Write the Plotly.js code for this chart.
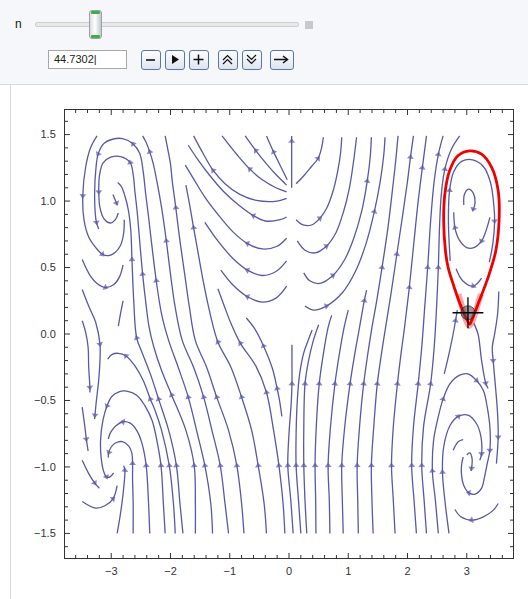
<!DOCTYPE html>
<html>
<head>
<meta charset="utf-8">
<script src="https://cdn.plot.ly/plotly-3.0.1.min.js"></script>
<style>
  html, body { margin:0; padding:0; background:#ffffff; }
  #page { position:relative; width:528px; height:599px; overflow:hidden; font-family:"Liberation Sans", Arial, sans-serif; }
  #panel { position:absolute; left:0; top:0; width:528px; height:84px; background:#f5f7fa; border-bottom:1px solid #d7dadf; }
  #vline { position:absolute; left:10px; top:85px; width:1px; height:514px; background:#d9d9d9; }
  .abs { position:absolute; }
  #nlab { left:15px; top:17px; font-size:12px; color:#222; }
  #track { left:35px; top:22px; width:262px; height:3px; background:#e9e9e9; border:1px solid #cfcfcf; border-radius:2px; }
  #thumb { left:89px; top:10px; width:13px; height:29px; border:1px solid #9aa0a8; border-radius:3px;
           background:linear-gradient(to right,#d9dce2,#ffffff 45%,#c3c7ce); box-sizing:border-box; }
  #thumb .cap { position:absolute; left:1px; width:9px; height:3px; background:#3cb043; border-radius:1px; }
  #endbox { left:305px; top:21px; width:8px; height:8px; background:#c9c9c9; }
  #inbox { left:48px; top:50px; width:79px; height:19px; border:1px solid #a8a8a8; background:#fff; box-sizing:border-box;
           font-size:11px; color:#222; padding-left:5px; line-height:17px; }
  .btn { position:absolute; top:50px; height:20px; border:1.5px solid #5577aa; border-radius:3px; box-sizing:border-box;
         background:linear-gradient(#fdfdfe,#dfe5ee); }
  .btn svg { position:absolute; left:0; top:0; }
  #plot { position:absolute; left:0; top:0; width:528px; height:599px; }
</style>
</head>
<body>
<div id="page">
  <div id="panel"></div>
  <div id="vline"></div>
  <div class="abs" id="nlab">n</div>
  <div class="abs" id="track"></div>
  <div class="abs" id="thumb"><div class="cap" style="top:0"></div><div class="cap" style="bottom:0"></div></div>
  <div class="abs" id="endbox"></div>
  <div class="abs" id="inbox">44.7302|</div>
  <div class="btn" style="left:141px;width:20px"><svg width="17" height="17"><line x1="4" y1="9" x2="13" y2="9" stroke="#111" stroke-width="1.6"/></svg></div>
  <div class="btn" style="left:165px;width:20px"><svg width="17" height="17"><polygon points="6,4 13,8.5 6,13" fill="#111"/></svg></div>
  <div class="btn" style="left:189px;width:20px"><svg width="17" height="17"><line x1="3.5" y1="8.5" x2="13.5" y2="8.5" stroke="#111" stroke-width="1.5"/><line x1="8.5" y1="3.5" x2="8.5" y2="13.5" stroke="#111" stroke-width="1.5"/></svg></div>
  <div class="btn" style="left:218px;width:20px"><svg width="17" height="17"><polyline points="4,9 8.5,4.5 13,9" fill="none" stroke="#111" stroke-width="1.2"/><polyline points="4,13 8.5,8.5 13,13" fill="none" stroke="#111" stroke-width="1.2"/></svg></div>
  <div class="btn" style="left:242px;width:20px"><svg width="17" height="17"><polyline points="4,4 8.5,8.5 13,4" fill="none" stroke="#111" stroke-width="1.2"/><polyline points="4,8 8.5,12.5 13,8" fill="none" stroke="#111" stroke-width="1.2"/></svg></div>
  <div class="btn" style="left:270px;width:24px"><svg width="21" height="17"><line x1="3" y1="8.5" x2="16" y2="8.5" stroke="#111" stroke-width="1.5"/><polyline points="12,5 16.5,8.5 12,12" fill="none" stroke="#111" stroke-width="1.5"/></svg></div>
  <div id="plot"></div>
</div>
<script>
// ---------- data ([x, y, arrowhead?]) ----------
const leftRisingLines = [
  [[-2.90,-1.50],[-2.84,-1.34],[-2.79,-1.16],[-2.77,-1.025,1],[-2.79,-0.99]],
  [[-2.63,-1.50],[-2.63,-1.26],[-2.64,-1.09],[-2.64,-0.975,1],[-2.65,-0.90],[-2.70,-0.845],[-2.81,-0.81],[-2.93,-0.82],[-3.00,-0.85],[-3.04,-0.89,1],[-3.05,-0.93]],
  [[-2.35,-1.50],[-2.37,-1.275],[-2.41,-0.99,1],[-2.48,-0.825],[-2.57,-0.725],[-2.68,-0.67],[-2.80,-0.66,1],[-2.92,-0.69],[-3.01,-0.74],[-3.05,-0.79]],
  [[-2.09,-1.50],[-2.12,-1.275],[-2.16,-0.99,1],[-2.23,-0.80],[-2.31,-0.65],[-2.43,-0.54],[-2.57,-0.46],[-2.74,-0.43],[-2.87,-0.435],[-2.99,-0.47],[-3.07,-0.54,1],[-3.14,-0.65],[-3.18,-0.80],[-3.17,-0.93],[-3.13,-1.03],[-3.08,-1.075,1],[-3.02,-1.075],[-2.96,-1.045]],
  [[-1.92,-1.50],[-1.95,-1.275],[-2.02,-0.99,1],[-2.15,-0.725],[-2.26,-0.575],[-2.34,-0.49,1],[-2.46,-0.35],[-2.60,-0.24],[-2.75,-0.165,1],[-2.88,-0.145],[-2.99,-0.155],[-3.06,-0.19]],
  [[-1.79,-1.50],[-1.84,-1.275],[-1.90,-0.99,1],[-2.03,-0.725],[-2.20,-0.49,1],[-2.34,-0.30],[-2.47,-0.15],[-2.57,-0.03,1],[-2.62,0.25],[-2.65,0.56,1],[-2.67,0.78],[-2.71,0.93],[-2.77,1.04],[-2.83,1.11],[-2.89,1.14]],
  [[-1.58,-1.50],[-1.58,-1.275],[-1.60,-0.99,1],[-1.74,-0.725],[-1.98,-0.46,1],[-2.15,-0.275],[-2.28,-0.10],[-2.36,0.05],[-2.42,0.25],[-2.47,0.45,1],[-2.52,0.70],[-2.56,0.91],[-2.60,1.07],[-2.63,1.20],[-2.68,1.29,1],[-2.84,1.335],[-3.01,1.33],[-3.14,1.285],[-3.20,1.185],[-3.21,1.07,1],[-3.19,0.95],[-3.12,0.865],[-3.01,0.835],[-2.93,0.86],[-2.88,0.91]],
  [[-1.29,-1.50],[-1.32,-1.275],[-1.42,-0.99,1],[-1.56,-0.725],[-1.70,-0.475,1],[-1.87,-0.25],[-2.03,-0.05],[-2.15,0.15],[-2.24,0.40,1],[-2.31,0.65],[-2.37,0.88],[-2.42,1.06],[-2.46,1.22],[-2.52,1.36],[-2.63,1.43,1],[-2.81,1.47],[-2.98,1.465],[-3.12,1.435],[-3.22,1.355,1],[-3.26,1.235],[-3.28,1.06],[-3.27,0.91],[-3.25,0.84,1],[-3.21,0.79]],
  [[-1.02,-1.50],[-1.08,-1.275],[-1.16,-0.99,1],[-1.30,-0.725],[-1.44,-0.475,1],[-1.61,-0.25],[-1.80,-0.05],[-1.92,0.20],[-2.00,0.45],[-2.07,0.70,1],[-2.15,0.95],[-2.23,1.15],[-2.29,1.28],[-2.35,1.37,1],[-2.41,1.44],[-2.47,1.49]],
  [[-0.76,-1.50],[-0.80,-1.275],[-0.88,-0.99,1],[-1.02,-0.725],[-1.22,-0.475,1],[-1.39,-0.25],[-1.58,-0.05],[-1.68,0.20],[-1.76,0.45],[-1.84,0.70],[-1.91,0.95,1],[-1.97,1.15],[-2.00,1.28],[-2.05,1.40],[-2.09,1.49]],
  [[-0.38,-1.50],[-0.42,-1.275],[-0.52,-0.99,1],[-0.63,-0.725],[-0.80,-0.475,1],[-0.98,-0.25],[-1.20,-0.06,1],[-1.33,0.15],[-1.44,0.38],[-1.53,0.60],[-1.61,0.80,1],[-1.68,0.98],[-1.74,1.12]],
  [[-0.07,-1.50],[-0.10,-1.275],[-0.17,-0.99,1],[-0.26,-0.725],[-0.38,-0.44,1],[-0.56,-0.24],[-0.82,-0.07,1],[-0.98,0.08],[-1.10,0.22],[-1.20,0.34]],
  [[-0.12,-0.62],[-0.16,-0.50],[-0.20,-0.41,1],[-0.28,-0.26],[-0.43,-0.09,1],[-0.58,0.04],[-0.72,0.12]]
];
const leftSpiralLines = [
  [[-3.24,1.49],[-3.35,1.40],[-3.43,1.26],[-3.48,1.04,1],[-3.46,0.86],[-3.38,0.73],[-3.26,0.65],[-3.15,0.60,1],[-3.04,0.59],[-2.93,0.615],[-2.84,0.67],[-2.79,0.76],[-2.78,0.86]],
  [[-2.97,1.05],[-2.94,1.015],[-2.91,0.985,1],[-2.90,0.97]],
  [[-3.49,0.56],[-3.35,0.435],[-3.24,0.38],[-3.10,0.35,1],[-2.96,0.37],[-2.86,0.43],[-2.80,0.52]],
  [[-3.49,0.335],[-3.38,0.21],[-3.26,0.085],[-3.19,-0.075,1],[-3.19,-0.20],[-3.21,-0.34],[-3.25,-0.50],[-3.275,-0.61,1],[-3.28,-0.64]],
  [[-3.49,0.10],[-3.43,0.01],[-3.39,-0.10],[-3.38,-0.25],[-3.36,-0.40,1],[-3.36,-0.44]],
  [[-2.80,0.25],[-2.84,0.16],[-2.88,0.06]],
  [[-3.49,-0.55],[-3.45,-0.68],[-3.42,-0.79,1],[-3.39,-0.88]],
  [[-3.49,-0.95],[-3.38,-1.05],[-3.28,-1.12,1],[-3.20,-1.16]],
  [[-3.49,-1.26],[-3.26,-1.31],[-3.10,-1.29],[-2.97,-1.24,1],[-2.90,-1.14]]
];
const upperLeftBowls = [
  [[-0.04,1.07],[-0.22,1.10],[-0.45,1.16],[-0.66,1.24,1],[-0.88,1.35],[-1.13,1.49]],
  [[-0.04,1.12],[-0.20,1.19],[-0.38,1.28],[-0.56,1.38,1],[-0.74,1.49]],
  [[-0.03,1.16],[-0.14,1.26],[-0.26,1.37,1],[-0.38,1.49]],
  [[-0.04,1.02],[-0.20,1.00],[-0.55,1.005],[-0.83,1.05],[-1.08,1.13],[-1.28,1.23,1],[-1.44,1.35],[-1.61,1.49]],
  [[-0.04,0.88],[-0.15,0.86],[-0.40,0.85],[-0.60,0.89,1],[-0.85,0.97],[-1.10,1.07],[-1.35,1.20],[-1.55,1.32],[-1.70,1.42]],
  [[-0.04,0.72],[-0.20,0.66],[-0.45,0.64],[-0.70,0.68,1],[-0.95,0.77],[-1.20,0.90],[-1.42,1.03],[-1.60,1.16],[-1.75,1.27]],
  [[-0.04,0.55],[-0.22,0.47],[-0.45,0.44],[-0.70,0.48,1],[-0.95,0.57],[-1.20,0.70],[-1.42,0.84]],
  [[-0.04,0.36],[-0.22,0.27],[-0.45,0.24],[-0.70,0.28,1],[-0.95,0.37],[-1.15,0.48]]
];
const rightRisingLines = [
  [[0.07,-1.50],[0.03,-1.25],[-0.02,-0.99,1],[0.00,-0.75],[0.04,-0.50],[0.05,-0.375,1],[0.05,-0.20],[0.05,-0.08]],
  [[0.20,-1.50],[0.16,-1.25],[0.12,-0.99,1],[0.12,-0.75],[0.14,-0.50],[0.18,-0.30],[0.25,-0.14],[0.33,-0.04],[0.39,0.03]],
  [[0.30,-1.50],[0.27,-1.25],[0.25,-0.99,1],[0.25,-0.70],[0.27,-0.375,1],[0.33,-0.20],[0.41,-0.05],[0.50,0.07]],
  [[0.455,-1.50],[0.45,-1.25],[0.44,-0.99,1],[0.46,-0.70],[0.51,-0.375,1],[0.58,-0.15],[0.66,0.05],[0.72,0.14]],
  [[0.69,-1.50],[0.68,-1.25],[0.66,-0.99,1],[0.70,-0.70],[0.775,-0.375,1],[0.85,-0.15],[0.93,0.05],[1.00,0.18]],
  [[0.915,-1.50],[0.90,-1.25],[0.89,-0.99,1],[0.94,-0.70],[1.03,-0.375,1],[1.11,-0.15],[1.19,0.05],[1.27,0.25,1],[1.31,0.33]],
  [[1.17,-1.50],[1.16,-1.25],[1.15,-0.99,1],[1.19,-0.70],[1.26,-0.375,1],[1.33,-0.15],[1.40,0.05],[1.48,0.25],[1.57,0.50,1],[1.67,0.80],[1.75,1.10],[1.80,1.30],[1.84,1.49]],
  [[1.42,-1.50],[1.40,-1.25],[1.39,-0.99,1],[1.43,-0.70],[1.49,-0.375,1],[1.56,-0.15],[1.63,0.05],[1.72,0.30],[1.82,0.60,1],[1.92,0.90],[2.00,1.15],[2.05,1.33,1],[2.10,1.49]],
  [[1.79,-1.50],[1.76,-1.25],[1.73,-0.99,1],[1.76,-0.70],[1.83,-0.375,1],[1.89,-0.15],[1.95,0.05],[2.03,0.35,1],[2.11,0.70],[2.18,1.00],[2.25,1.25,1],[2.32,1.49]],
  [[2.15,-1.50],[2.11,-1.25],[2.07,-0.99,1],[2.10,-0.70],[2.18,-0.375,1],[2.24,-0.10],[2.29,0.20],[2.34,0.50,1],[2.39,0.85],[2.45,1.15],[2.52,1.35,1],[2.60,1.49]],
  [[2.32,-1.50],[2.28,-1.25],[2.24,-0.99,1],[2.27,-0.70],[2.39,-0.375,1],[2.45,-0.10],[2.49,0.20],[2.52,0.50,1],[2.54,0.80],[2.57,1.05],[2.63,1.24,1],[2.74,1.39],[2.88,1.49]]
];
const lowerRightSpiralLines = [
  [[2.52,-1.50],[2.47,-1.25],[2.42,-1.03,1],[2.44,-0.80],[2.52,-0.62],[2.60,-0.49,1],[2.715,-0.375],[2.88,-0.31],[3.02,-0.30],[3.165,-0.35,1],[3.28,-0.425],[3.345,-0.55],[3.39,-0.70],[3.39,-0.875,1],[3.345,-0.975],[3.30,-1.075],[3.25,-1.16],[3.14,-1.205],[3.035,-1.195,1],[2.95,-1.14],[2.91,-1.05],[2.915,-0.975],[2.94,-0.925]],
  [[2.70,-1.50],[2.63,-1.25],[2.59,-1.04,1],[2.61,-0.85],[2.715,-0.69],[2.855,-0.62,1],[3.02,-0.61],[3.165,-0.675],[3.24,-0.775],[3.25,-0.90,1],[3.22,-0.95]],
  [[2.77,-0.875],[2.855,-0.81],[2.94,-0.795]],
  [[3.00,-0.91],[3.05,-0.895],[3.09,-0.94],[3.08,-1.01,1],[3.07,-1.03]],
  [[3.53,-1.275],[3.45,-1.325],[3.28,-1.375],[3.08,-1.40,1],[2.90,-1.375],[2.80,-1.32]],
  [[3.54,0.32],[3.52,0.15],[3.47,0.00],[3.43,-0.10],[3.445,-0.20,1],[3.49,-0.425],[3.52,-0.60],[3.53,-0.775,1],[3.50,-0.975]],
  [[3.12,0.08],[3.19,0.00],[3.25,-0.20],[3.32,-0.37,1],[3.36,-0.41]],
  [[2.62,-0.30],[2.70,-0.15],[2.77,0.00],[2.81,0.10,1],[2.84,0.18]]
];
const upperRightBowls = [
  [[0.045,1.10],[0.045,1.30],[0.045,1.45,1],[0.045,1.49]],
  [[0.12,1.13],[0.25,1.19],[0.38,1.26],[0.49,1.32,1],[0.55,1.40],[0.58,1.48]],
  [[0.12,0.86],[0.24,0.82],[0.38,0.82],[0.52,0.87,1],[0.64,0.95],[0.74,1.07],[0.82,1.22],[0.87,1.36],[0.89,1.48]],
  [[0.14,0.70],[0.27,0.63],[0.44,0.61],[0.63,0.66,1],[0.79,0.76],[0.92,0.92],[1.02,1.10],[1.09,1.30],[1.14,1.48]],
  [[0.25,0.46],[0.35,0.40],[0.52,0.38],[0.74,0.44,1],[0.94,0.56],[1.10,0.73],[1.23,0.93],[1.32,1.15,1],[1.37,1.33],[1.39,1.48]],
  [[0.27,0.21],[0.41,0.18],[0.63,0.21,1],[0.90,0.31],[1.12,0.47],[1.30,0.68],[1.44,0.92,1],[1.54,1.15],[1.60,1.35],[1.62,1.48]]
];
const upperRightSpiralLines = [
  [[2.72,0.55],[2.69,0.85],[2.71,1.08,1],[2.78,1.22],[2.92,1.30],[3.10,1.31],[3.28,1.26],[3.40,1.14],[3.46,0.95],[3.47,0.85,1],[3.44,0.68],[3.38,0.54]],
  [[3.39,0.877],[3.32,0.77],[3.25,0.70,1],[3.12,0.65],[3.00,0.65],[2.87,0.71],[2.80,0.80,1],[2.78,0.915]],
  [[2.95,0.97],[2.96,1.05],[3.03,1.09],[3.11,1.06],[3.14,0.99],[3.11,0.94,1],[3.09,0.93]],
  [[3.25,0.42],[3.11,0.36,1],[2.93,0.40],[2.82,0.49]]
];
const redLoopX = [3.05,2.91,2.77,2.685,2.64,2.61,2.63,2.71,2.85,3.05,3.25,3.42,3.53,3.545,3.49,3.36,3.19,3.08,3.05];
const redLoopY = [0.075,0.20,0.376,0.50,0.627,0.852,1.053,1.228,1.341,1.378,1.353,1.253,1.078,0.852,0.627,0.426,0.226,0.10,0.075];
const redSmearX = [2.86,2.93,2.99,3.04,3.10,3.17,3.24];
const redSmearY = [0.30,0.19,0.10,0.06,0.10,0.20,0.30];
const locatorX = [3.02];
const locatorY = [0.16];
const xRange = [-3.78, 3.78];
const yRange = [-1.685, 1.685];
const xTickVals = [-3,-2,-1,0,1,2,3];
const xTickText = ['\u22123','\u22122','\u22121','0','1','2','3'];
const xMinorTickVals = [-3.6,-3.4,-3.2,-2.8,-2.6,-2.4,-2.2,-1.8,-1.6,-1.4,-1.2,-0.8,-0.6,-0.4,-0.2,0.2,0.4,0.6,0.8,1.2,1.4,1.6,1.8,2.2,2.4,2.6,2.8,3.2,3.4,3.6];
const yTickVals = [-1.5,-1.0,-0.5,0,0.5,1.0,1.5];
const yTickText = ['\u22121.5','\u22121.0','\u22120.5','0.0','0.5','1.0','1.5'];
const yMinorTickVals = [-1.6,-1.4,-1.3,-1.2,-1.1,-0.9,-0.8,-0.7,-0.6,-0.4,-0.3,-0.2,-0.1,0.1,0.2,0.3,0.4,0.6,0.7,0.8,0.9,1.1,1.2,1.3,1.4,1.6];

// ---------- drawing ----------
const W = 528, H = 599, M = {l:65, r:15, t:110, b:41};
const streamColor = 'rgb(88,88,166)';
const frameColor = '#333';
const traces = [];
function addStreams(list){
  list.forEach(s => {
    traces.push({
      type:'scatter', mode:'lines+markers',
      x: s.map(p => p[0]), y: s.map(p => p[1]),
      line:{color:streamColor, width:1.3, shape:'spline', smoothing:1},
      marker:{symbol:'triangle-up', size: s.map(p => p[2] ? 6 : 0), color:streamColor, angleref:'previous', line:{width:0}},
      hoverinfo:'skip', showlegend:false
    });
  });
}
[leftRisingLines, leftSpiralLines, upperLeftBowls, rightRisingLines, lowerRightSpiralLines, upperRightBowls, upperRightSpiralLines].forEach(addStreams);

traces.push({type:'scatter', mode:'lines', x:redSmearX, y:redSmearY, line:{color:'rgba(255,0,0,0.35)', width:6, shape:'spline'}, hoverinfo:'skip', showlegend:false});
traces.push({type:'scatter', mode:'lines', x:redLoopX, y:redLoopY, line:{color:'rgb(238,0,0)', width:2.8, shape:'spline', smoothing:1}, hoverinfo:'skip', showlegend:false});
traces.push({type:'scatter', mode:'markers', x:locatorX, y:locatorY, marker:{symbol:'circle', size:14, color:'rgba(70,70,70,0.55)', line:{color:'rgba(30,30,30,0.8)', width:0.8}}, hoverinfo:'skip', showlegend:false});
traces.push({type:'scatter', mode:'markers', x:locatorX, y:locatorY, marker:{symbol:'cross-thin', size:22, color:'#000', line:{color:'#000', width:1.3}}, hoverinfo:'skip', showlegend:false});

// inside frame ticks on all four sides (tick length given in pixels, turned into axis units)
const xPerPx = (xRange[1] - xRange[0]) / (W - M.l - M.r);
const yPerPx = (yRange[1] - yRange[0]) / (H - M.t - M.b);
function frameTicks(vals, lenPx){
  const tx = [], ty = [];
  vals.forEach(v => {
    tx.push(v, v, null, v, v, null);
    ty.push(yRange[0], yRange[0] + lenPx*yPerPx, null, yRange[1], yRange[1] - lenPx*yPerPx, null);
  });
  return {type:'scatter', mode:'lines', x:tx, y:ty, line:{color:frameColor, width:1}, hoverinfo:'skip', showlegend:false};
}
function frameTicksY(vals, lenPx){
  const tx = [], ty = [];
  vals.forEach(v => {
    ty.push(v, v, null, v, v, null);
    tx.push(xRange[0], xRange[0] + lenPx*xPerPx, null, xRange[1], xRange[1] - lenPx*xPerPx, null);
  });
  return {type:'scatter', mode:'lines', x:tx, y:ty, line:{color:frameColor, width:1}, hoverinfo:'skip', showlegend:false};
}
traces.push(frameTicks(xTickVals, 5), frameTicks(xMinorTickVals, 3), frameTicksY(yTickVals, 5), frameTicksY(yMinorTickVals, 3));

const tickFont = {family:'"Liberation Sans", Arial, sans-serif', size:11, color:'#333'};
const layout = {
  width:W, height:H,
  margin:{l:M.l, r:M.r, t:M.t, b:M.b, pad:0},
  paper_bgcolor:'rgba(0,0,0,0)', plot_bgcolor:'#ffffff',
  showlegend:false,
  xaxis:{range:xRange, showgrid:false, zeroline:false, showline:true, linecolor:frameColor, linewidth:1,
         mirror:true, ticks:'', tickmode:'array', tickvals:xTickVals, ticktext:xTickText, tickfont:tickFont,
         ticklabelstandoff:3, fixedrange:true},
  yaxis:{range:yRange, showgrid:false, zeroline:false, showline:true, linecolor:frameColor, linewidth:1,
         mirror:true, ticks:'', tickmode:'array', tickvals:yTickVals, ticktext:yTickText, tickfont:tickFont,
         ticklabelstandoff:6, fixedrange:true}
};
Plotly.newPlot('plot', traces, layout, {staticPlot:true, displayModeBar:false});
</script>
</body>
</html>
